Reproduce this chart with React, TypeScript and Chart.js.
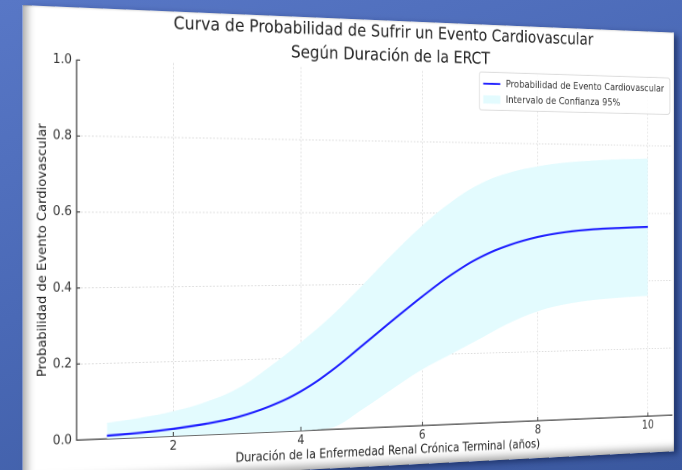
import React, { useEffect, useRef } from "react";
import { Chart, registerables } from "chart.js";

Chart.register(...registerables);

// ---------- data ----------
const chartTitle = [
  "Curva de Probabilidad de Sufrir un Evento Cardiovascular",
  "Según Duración de la ERCT",
];
const xAxisTitle = "Duración de la Enfermedad Renal Crónica Terminal (años)";
const yAxisTitle = "Probabilidad de Evento Cardiovascular";
const seriesLabels = ["Probabilidad de Evento Cardiovascular", "Intervalo de Confianza 95%"];

const years = [1, 1.5, 2, 2.5, 3, 3.5, 4, 4.5, 5, 5.5, 6, 6.5, 7, 7.5, 8, 8.5, 9, 9.5, 10];
const probability = [0.008, 0.012, 0.019, 0.029, 0.044, 0.07, 0.108, 0.163, 0.23, 0.298, 0.364, 0.425, 0.474, 0.508, 0.531, 0.545, 0.553, 0.557, 0.56];
const ciUpper = [0.042, 0.052, 0.066, 0.088, 0.122, 0.178, 0.243, 0.315, 0.398, 0.484, 0.564, 0.632, 0.684, 0.716, 0.735, 0.747, 0.754, 0.759, 0.762];
const ciLower = [0, 0, 0, 0, 0, 0, 0, 0.004, 0.052, 0.106, 0.158, 0.2, 0.242, 0.284, 0.316, 0.335, 0.346, 0.352, 0.356];

const xMin = 0.55;
const xMax = 10.45;
const xTicks = [2, 4, 6, 8, 10];
const yTicks = [0, 0.2, 0.4, 0.6, 0.8, 1.0];

// ---------- styling / placement ----------
const FONT = '"DejaVu Sans", "Liberation Sans", sans-serif';
const CARD_W = 794;
const CARD_H = 472;
const LINE_COLOR = "#1e1eff";
const BAND_COLOR = "#e3fbfe";
const GRID_COLOR = "rgba(0,0,0,0.14)";
const AXIS_COLOR = "#3a3a3a";
// where the plot corners (xMin,0), (xMax,0), (xMin,1), (xMax,1) appear on the page (tilted photo)
const PLACEMENT = [
  [76.5, 440],
  [672, 415],
  [76.5, 60],
  [672, 79],
];

function homography(src: number[][], dst: number[][]): number[] {
  const A: number[][] = [];
  for (let i = 0; i < 4; i++) {
    const [x, y] = src[i];
    const [X, Y] = dst[i];
    A.push([x, y, 1, 0, 0, 0, -x * X, -y * X, X]);
    A.push([0, 0, 0, x, y, 1, -x * Y, -y * Y, Y]);
  }
  const n = 8;
  for (let c = 0; c < n; c++) {
    let p = c;
    for (let r = c + 1; r < n; r++) if (Math.abs(A[r][c]) > Math.abs(A[p][c])) p = r;
    [A[c], A[p]] = [A[p], A[c]];
    for (let r = 0; r < n; r++) {
      if (r === c) continue;
      const f = A[r][c] / A[c][c];
      for (let k = c; k <= n; k++) A[r][k] -= f * A[c][k];
    }
  }
  return A.map((row, i) => row[n] / row[i]);
}

const inwardTicks = {
  id: "inwardTicks",
  afterDatasetsDraw(chart: any) {
    const { ctx, chartArea, scales } = chart;
    ctx.save();
    ctx.strokeStyle = AXIS_COLOR;
    ctx.lineWidth = 1.1;
    ctx.beginPath();
    scales.x.ticks.forEach((t: any) => {
      const px = scales.x.getPixelForValue(t.value);
      ctx.moveTo(px, chartArea.bottom);
      ctx.lineTo(px, chartArea.bottom - 4);
    });
    scales.y.ticks.forEach((t: any) => {
      const py = scales.y.getPixelForValue(t.value);
      ctx.moveTo(chartArea.left, py);
      ctx.lineTo(chartArea.left + 4, py);
    });
    ctx.stroke();
    ctx.restore();
  },
};

const boxLegend = {
  id: "boxLegend",
  afterDraw(chart: any) {
    const { ctx, chartArea } = chart;
    ctx.save();
    ctx.font = `11px ${FONT}`;
    const pad = 5;
    const handleW = 22;
    const gap = 7;
    const rowH = 17;
    const textW = Math.max(...seriesLabels.map((t) => ctx.measureText(t).width));
    const w = pad + handleW + gap + textW + pad + 3;
    const h = pad * 2 + rowH * 2 - 3;
    const x0 = chartArea.right - 3 - w;
    const y0 = chartArea.top - 1;
    ctx.beginPath();
    ctx.roundRect(x0, y0, w, h, 3);
    ctx.fillStyle = "rgba(255,255,255,0.85)";
    ctx.fill();
    ctx.strokeStyle = "#d9d9d9";
    ctx.lineWidth = 1;
    ctx.stroke();
    const r1 = y0 + pad + rowH / 2 - 1;
    const r2 = r1 + rowH;
    ctx.strokeStyle = LINE_COLOR;
    ctx.lineWidth = 2;
    ctx.beginPath();
    ctx.moveTo(x0 + pad, r1);
    ctx.lineTo(x0 + pad + handleW, r1);
    ctx.stroke();
    ctx.fillStyle = BAND_COLOR;
    ctx.fillRect(x0 + pad, r2 - 4.5, handleW, 9);
    ctx.fillStyle = "#333";
    ctx.textBaseline = "middle";
    ctx.fillText(seriesLabels[0], x0 + pad + handleW + gap, r1);
    ctx.fillText(seriesLabels[1], x0 + pad + handleW + gap, r2);
    ctx.restore();
  },
};

export default function App() {
  const canvasRef = useRef<HTMLCanvasElement>(null);
  const cardRef = useRef<HTMLDivElement>(null);

  useEffect(() => {
    const pts = (vals: number[]) => years.map((x, i) => ({ x, y: vals[i] }));
    const chart = new Chart(canvasRef.current!, {
      type: "line",
      data: {
        datasets: [
          {
            label: seriesLabels[0],
            data: pts(probability),
            borderColor: LINE_COLOR,
            borderWidth: 2.2,
            pointRadius: 0,
            fill: false,
            tension: 0.4,
          },
          {
            label: seriesLabels[1],
            data: pts(ciUpper),
            borderColor: "rgba(0,0,0,0)",
            borderWidth: 1,
            backgroundColor: BAND_COLOR,
            pointRadius: 0,
            fill: "+1",
            tension: 0.4,
          },
          {
            label: "lower",
            data: pts(ciLower),
            borderColor: "rgba(0,0,0,0)",
            borderWidth: 1,
            pointRadius: 0,
            fill: false,
            tension: 0.4,
          },
        ],
      } as any,
      options: {
        animation: false,
        responsive: false,
        devicePixelRatio: 2,
        layout: { padding: { left: 0, right: 3, top: 0, bottom: 0 } },
        plugins: {
          legend: { display: false },
          tooltip: { enabled: false },
          title: {
            display: true,
            text: chartTitle,
            fullSize: false,
            color: "#222",
            font: { family: FONT, size: 18, weight: "normal", lineHeight: 1.4 },
            padding: { top: 0, bottom: 2 },
          },
        },
        scales: {
          x: {
            type: "linear",
            min: xMin,
            max: xMax,
            afterBuildTicks: (s: any) => {
              s.ticks = xTicks.map((v) => ({ value: v }));
            },
            afterFit: (s: any) => {
              s.height = 41;
            },
            grid: { color: GRID_COLOR, drawTicks: false, lineWidth: 1 },
            border: { display: true, color: AXIS_COLOR, width: 1.3, dash: [2, 2] },
            ticks: {
              color: "#333",
              font: { family: FONT, size: 13 },
              padding: 3,
              callback: (v: any) => String(v),
            },
            title: {
              display: true,
              text: xAxisTitle,
              color: "#222",
              font: { family: FONT, size: 13 },
              padding: { top: 4, bottom: 7 },
            },
          },
          y: {
            type: "linear",
            min: 0,
            max: 1,
            afterBuildTicks: (s: any) => {
              s.ticks = yTicks.map((v) => ({ value: v }));
            },
            afterFit: (s: any) => {
              s.width = 58;
            },
            grid: {
              color: (c: any) =>
                c.tick && (c.tick.value === 0 || c.tick.value === 1) ? "rgba(0,0,0,0)" : GRID_COLOR,
              drawTicks: false,
              lineWidth: 1,
            },
            border: { display: true, color: AXIS_COLOR, width: 1.3, dash: [2, 2] },
            ticks: {
              color: "#333",
              font: { family: FONT, size: 13 },
              padding: 5,
              callback: (v: any) => Number(v).toFixed(1),
            },
            title: {
              display: true,
              text: yAxisTitle,
              color: "#222",
              font: { family: FONT, size: 13 },
              padding: { top: 14, bottom: 0 },
            },
          },
        },
      } as any,
      plugins: [inwardTicks, boxLegend],
    });

    const xs = chart.scales.x;
    const ys = chart.scales.y;
    const src = [
      [xs.getPixelForValue(xMin), ys.getPixelForValue(0)],
      [xs.getPixelForValue(xMax), ys.getPixelForValue(0)],
      [xs.getPixelForValue(xMin), ys.getPixelForValue(1)],
      [xs.getPixelForValue(xMax), ys.getPixelForValue(1)],
    ];
    const h = homography(src, PLACEMENT);
    if (cardRef.current) {
      cardRef.current.style.transform = `matrix3d(${h[0]},${h[3]},0,${h[6]},${h[1]},${h[4]},0,${h[7]},0,0,1,0,${h[2]},${h[5]},0,1)`;
    }
    return () => chart.destroy();
  }, []);

  return (
    <div
      style={{
        position: "fixed",
        left: 0,
        top: 0,
        width: "100vw",
        height: "100vh",
        overflow: "hidden",
        background: "linear-gradient(160deg, #5877c6 0%, #4a69b6 45%, #3a589f 100%)",
      }}
    >
      <div
        ref={cardRef}
        style={{
          position: "absolute",
          left: 0,
          top: 0,
          width: CARD_W,
          height: CARD_H,
          background: "#fff",
          transformOrigin: "0 0",
          boxShadow: "5px 3px 7px rgba(10,25,70,0.6)",
        }}
      >
        <canvas
          ref={canvasRef}
          width={CARD_W}
          height={CARD_H}
          style={{ display: "block", width: CARD_W, height: CARD_H }}
        />
        <div
          style={{
            position: "absolute",
            left: 0,
            top: 0,
            right: 0,
            bottom: 0,
            pointerEvents: "none",
            boxShadow:
              "inset 12px 0 9px -7px rgba(0,0,0,0.32), inset 0 -10px 8px -6px rgba(0,0,0,0.35), inset 0 2px 2px -1px rgba(0,0,0,0.12), inset -2px 0 2px -1px rgba(0,0,0,0.18)",
          }}
        />
      </div>
    </div>
  );
}
